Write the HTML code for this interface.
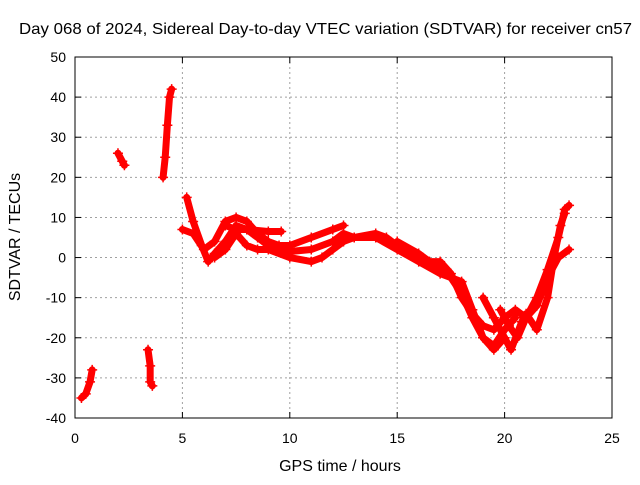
<!DOCTYPE html>
<html><head><meta charset="utf-8"><style>
body{margin:0;background:#fff}
svg{font-family:"Liberation Sans",sans-serif;font-size:14px}
.big{font-size:16px}
</style></head><body>
<svg id="chart" width="640" height="480" xmlns="http://www.w3.org/2000/svg">
<rect width="640" height="480" fill="#fff"/>
<g id="grid"></g><g id="axes"></g><g id="series"></g>
<text class="big" x="19" y="34" textLength="613" lengthAdjust="spacingAndGlyphs">Day 068 of 2024, Sidereal Day-to-day VTEC variation (SDTVAR) for receiver cn57</text>
<text class="big" x="340" y="471" text-anchor="middle">GPS time / hours</text>
<text class="big" transform="translate(20,237) rotate(-90)" text-anchor="middle">SDTVAR / TECUs</text>
</svg>
<script>
const xTicks=[0,5,10,15,20,25];
const yTicks=[50,40,30,20,10,0,-10,-20,-30,-40];
const trackNames=["seg-a","seg-b","seg-c","seg-d","track-a","track-b","track-c","track-d","track-e","track-f","track-g"];
const trackHours=[
[0.3,0.5,0.7,0.8],
[2.0,2.2,2.3],
[3.4,3.5,3.5,3.6],
[4.1,4.2,4.3,4.4,4.5],
[5.2,5.5,5.9,6.2,6.5,7,7.5,8,8.5,9,9.5,10,11,12,12.5,13,14,14.5,15,15.5,16,17,17.5,18,18.5,19,19.5,20,20.5],
[5,5.5,6,6.5,7,7.5,8,8.5,9,9.5,10,11,12,12.5],
[6.5,7,7.5,8,8.5,9,10,11,11.5,12,12.5,13,14,15,16,17,18,18.5,19,19.5,20],
[15,16,16.5,17,17.5,18,18.5,19,19.5,20,20.5,21,21.5,22,22.5,22.8,23],
[19,19.5,20,20.3,20.8,21,21.5,22,22.3,22.6,22.8],
[19.8,20.2,20.6,21,21.5,22,22.5,23],
[7,7.5,8,9,9.6]];
const trackValues=[
[-35,-34,-31,-28],
[26,24,23],
[-23,-27,-31,-32],
[20,25,33,40,42],
[15,9,3,-1,1,4,8,7,5,3,2,1.5,2,4,6,5,6,5,3,1,0,-3,-5,-9,-15,-20,-22,-18,-15],
[7,6,2,4,9,10,9,6,4,3,3,5,7,8],
[0,2,6,3,2,2,0,-1,0,2,4,5,5,2,-1,-4,-6,-13,-20,-23,-20],
[4,1,-1,-1,-4,-10,-14,-17,-18,-15,-13,-15,-10,-3,5,12,13],
[-10,-15,-20,-23,-16,-14,-18,-10,0,8,11],
[-13,-17,-20,-15,-12,-5,0,2],
[8,7,7,6.5,6.5]];
const X0=75,X1=612,Y0=418,Y1=57;
const xs=v=>X0+(v-0)/(25-0)*(X1-X0);
const ys=v=>Y0-(v+40)/(90)*(Y0-Y1);
const NS="http://www.w3.org/2000/svg";
function mk(tag,attrs,parent){const e=document.createElementNS(NS,tag);for(const k in attrs)e.setAttribute(k,attrs[k]);parent.appendChild(e);return e;}
const grid=document.getElementById('grid'),axes=document.getElementById('axes'),ser=document.getElementById('series');
xTicks.forEach(t=>{const x=xs(t);
 if(t>0&&t<25){const g=mk('line',{x1:x,x2:x,y1:Y1,y2:Y0,stroke:'#a0a0a0','stroke-dasharray':'2,3'},grid);
 
 }
 mk('line',{x1:x,x2:x,y1:Y0,y2:Y0-6,stroke:'#000'},axes);mk('line',{x1:x,x2:x,y1:Y1,y2:Y1+6,stroke:'#000'},axes);
 const l=mk('text',{x:x,y:Y0+25,'text-anchor':'middle'},axes);l.textContent=t;
 
 });
yTicks.forEach(t=>{const y=ys(t);
 if(t>-40&&t<50){const g=mk('line',{x1:X0,x2:X1,y1:y,y2:y,stroke:'#a0a0a0','stroke-dasharray':'2,3'},grid);
 
 }
 mk('line',{x1:X0,x2:X0+6,y1:y,y2:y,stroke:'#000'},axes);mk('line',{x1:X1,x2:X1-6,y1:y,y2:y,stroke:'#000'},axes);
 const l=mk('text',{x:X0-9,y:y+5,'text-anchor':'end'},axes);l.textContent=t;
 
 });
const fr=mk('rect',{x:X0,y:Y1,width:X1-X0,height:Y0-Y1,fill:'none',stroke:'#000'},axes);


trackHours.forEach((hs,i)=>{const vs=trackValues[i];
 const g=mk('g',{},ser);
 
 
 const pts=hs.map((h,j)=>xs(h)+','+ys(vs[j])).join(' ');
 mk('polyline',{points:pts,fill:'none',stroke:'#f00','stroke-width':7,'stroke-linejoin':'round','stroke-linecap':'round'},g);
 hs.forEach((h,j)=>{const x=xs(h),y=ys(vs[j]);
  const p=mk('path',{d:`M${x-5},${y}H${x+5}M${x},${y-5}V${y+5}`,stroke:'#f00','stroke-width':1.5},g);
  
  });
});
</script>
</body></html>
